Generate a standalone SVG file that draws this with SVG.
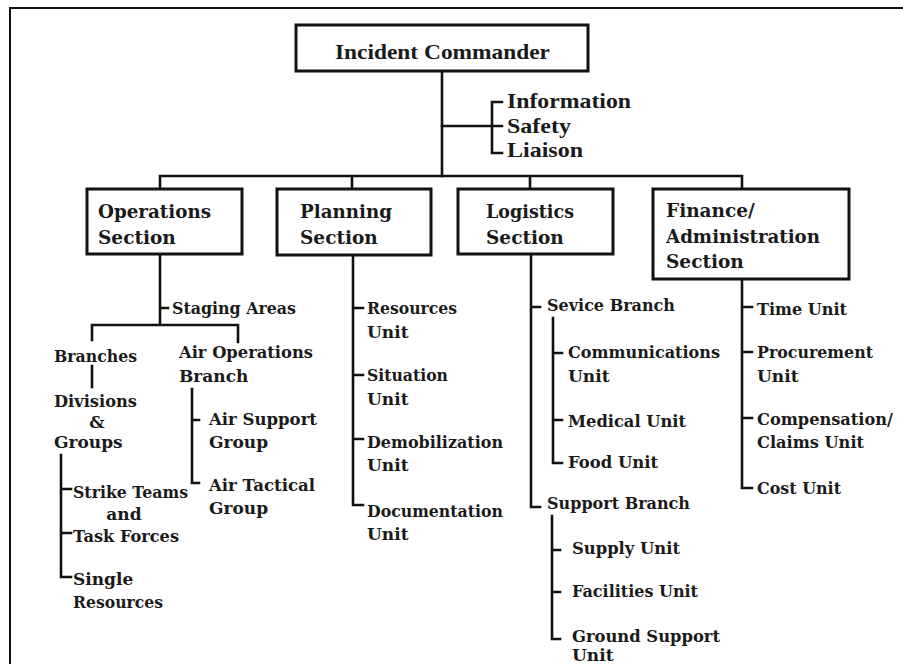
<svg xmlns="http://www.w3.org/2000/svg" width="903" height="664" viewBox="0 0 903 664">
<style>
.frame{fill:none;stroke:#111;stroke-width:2}
.box{fill:#fff;stroke:#111;stroke-width:3}
.ln{fill:none;stroke:#111;stroke-width:2.6;stroke-linecap:square}
.t{font-family:"DejaVu Serif","Liberation Serif",serif;font-weight:bold;font-size:17px;fill:#1a1a1a}
.s{font-family:"DejaVu Serif","Liberation Serif",serif;font-weight:bold;font-size:18.5px;fill:#1a1a1a}
.c{font-family:"Liberation Serif",serif;font-weight:bold;font-size:21px;fill:#1a1a1a}
</style>
<rect width="903" height="664" fill="#fff"/>
<path class="frame" d="M10,664 V8 H903"/>
<g id="connectors">
<path class="ln" d="M442,71 V176"/>
<path class="ln" d="M442,126 H502 M502,102 H492 V153 H502"/>
<path class="ln" d="M160,189 V176 H742 V189 M352,176 V189 M530,176 V189"/>
<path class="ln" d="M160,254 V325 M160,308 H168 M92,340 V325 H238 V342"/>
<path class="ln" d="M92,366 V387"/>
<path class="ln" d="M61,455 V577 H71 M61,489 H71 M61,533 H71"/>
<path class="ln" d="M192,389 V483 H199 M192,420 H199"/>
<path class="ln" d="M353,255 V505 H363 M353,308 H363 M353,375 H363 M353,439 H363"/>
<path class="ln" d="M531,254 V507 H540 M531,307 H540"/>
<path class="ln" d="M553,318 V463 H562 M553,353 H562 M553,420 H562"/>
<path class="ln" d="M552,516 V639 H560 M552,550 H560 M552,592 H560"/>
<path class="ln" d="M742,279 V488 H752 M742,307 H752 M742,352 H752 M742,418 H752"/>
</g>
<g id="incident-commander">
<rect class="box" x="296" y="25" width="292" height="46"/>
<text class="c" x="335" y="59" textLength="215" lengthAdjust="spacingAndGlyphs">Incident Commander</text>
</g>
<g id="command-staff">
<text class="c" x="507" y="108" font-size="22" textLength="124" lengthAdjust="spacingAndGlyphs">Information</text>
<text class="c" x="507" y="133" font-size="22" textLength="64" lengthAdjust="spacingAndGlyphs">Safety</text>
<text class="c" x="507" y="157" font-size="22" textLength="76" lengthAdjust="spacingAndGlyphs">Liaison</text>
</g>
<g id="operations-section">
<rect class="box" x="87" y="189" width="155" height="65"/>
<text class="s" x="98" y="218" textLength="113" lengthAdjust="spacingAndGlyphs">Operations</text>
<text class="s" x="98" y="244">Section</text>
</g>
<g id="planning-section">
<rect class="box" x="277" y="189" width="154" height="66"/>
<text class="s" x="300" y="218" textLength="92" lengthAdjust="spacingAndGlyphs">Planning</text>
<text class="s" x="300" y="244">Section</text>
</g>
<g id="logistics-section">
<rect class="box" x="458" y="189" width="155" height="65"/>
<text class="s" x="486" y="218" textLength="88" lengthAdjust="spacingAndGlyphs">Logistics</text>
<text class="s" x="486" y="244">Section</text>
</g>
<g id="finance-section">
<rect class="box" x="653" y="189" width="196" height="90"/>
<text class="s" x="666" y="217">Finance/</text>
<text class="s" x="666" y="243" textLength="154" lengthAdjust="spacingAndGlyphs">Administration</text>
<text class="s" x="666" y="268">Section</text>
</g>
<g id="staging-areas"><text class="t" x="172" y="314" textLength="124" lengthAdjust="spacingAndGlyphs">Staging Areas</text></g>
<g id="branches"><text class="t" x="54" y="362" textLength="83" lengthAdjust="spacingAndGlyphs">Branches</text></g>
<g id="divisions-groups">
<text class="t" x="54" y="407" textLength="83" lengthAdjust="spacingAndGlyphs">Divisions</text>
<text class="t" x="97" y="428" text-anchor="middle">&amp;</text>
<text class="t" x="54" y="448">Groups</text>
</g>
<g id="strike-teams">
<text class="t" x="73" y="498" textLength="115" lengthAdjust="spacingAndGlyphs">Strike Teams</text>
<text class="t" x="124" y="520" text-anchor="middle">and</text>
<text class="t" x="73" y="542" textLength="106" lengthAdjust="spacingAndGlyphs">Task Forces</text>
</g>
<g id="single-resources">
<text class="t" x="73" y="585">Single</text>
<text class="t" x="73" y="608" textLength="90" lengthAdjust="spacingAndGlyphs">Resources</text>
</g>
<g id="air-operations">
<text class="t" x="179" y="358" textLength="134" lengthAdjust="spacingAndGlyphs">Air Operations</text>
<text class="t" x="179" y="382">Branch</text>
</g>
<g id="air-support">
<text class="t" x="209" y="425" textLength="108" lengthAdjust="spacingAndGlyphs">Air Support</text>
<text class="t" x="209" y="448">Group</text>
</g>
<g id="air-tactical">
<text class="t" x="209" y="491" textLength="106" lengthAdjust="spacingAndGlyphs">Air Tactical</text>
<text class="t" x="209" y="514">Group</text>
</g>
<g id="resources-unit">
<text class="t" x="367" y="314" textLength="90" lengthAdjust="spacingAndGlyphs">Resources</text>
<text class="t" x="367" y="338">Unit</text>
</g>
<g id="situation-unit">
<text class="t" x="367" y="381" textLength="81" lengthAdjust="spacingAndGlyphs">Situation</text>
<text class="t" x="367" y="405">Unit</text>
</g>
<g id="demobilization-unit">
<text class="t" x="367" y="448" textLength="136" lengthAdjust="spacingAndGlyphs">Demobilization</text>
<text class="t" x="367" y="471">Unit</text>
</g>
<g id="documentation-unit">
<text class="t" x="367" y="517" textLength="136" lengthAdjust="spacingAndGlyphs">Documentation</text>
<text class="t" x="367" y="540">Unit</text>
</g>
<g id="service-branch"><text class="t" x="547" y="311" textLength="128" lengthAdjust="spacingAndGlyphs">Sevice Branch</text></g>
<g id="communications-unit">
<text class="t" x="568" y="358" textLength="152" lengthAdjust="spacingAndGlyphs">Communications</text>
<text class="t" x="568" y="382">Unit</text>
</g>
<g id="medical-unit"><text class="t" x="568" y="427" textLength="118" lengthAdjust="spacingAndGlyphs">Medical Unit</text></g>
<g id="food-unit"><text class="t" x="568" y="468" textLength="90" lengthAdjust="spacingAndGlyphs">Food Unit</text></g>
<g id="support-branch"><text class="t" x="547" y="509" textLength="143" lengthAdjust="spacingAndGlyphs">Support Branch</text></g>
<g id="supply-unit"><text class="t" x="572" y="554" textLength="108" lengthAdjust="spacingAndGlyphs">Supply Unit</text></g>
<g id="facilities-unit"><text class="t" x="572" y="597" textLength="126" lengthAdjust="spacingAndGlyphs">Facilities Unit</text></g>
<g id="ground-support-unit">
<text class="t" x="572" y="642" textLength="148" lengthAdjust="spacingAndGlyphs">Ground Support</text>
<text class="t" x="572" y="661">Unit</text>
</g>
<g id="time-unit"><text class="t" x="757" y="315" textLength="90" lengthAdjust="spacingAndGlyphs">Time Unit</text></g>
<g id="procurement-unit">
<text class="t" x="757" y="358" textLength="116" lengthAdjust="spacingAndGlyphs">Procurement</text>
<text class="t" x="757" y="382">Unit</text>
</g>
<g id="compensation-unit">
<text class="t" x="757" y="425" textLength="136" lengthAdjust="spacingAndGlyphs">Compensation/</text>
<text class="t" x="757" y="448" textLength="107" lengthAdjust="spacingAndGlyphs">Claims Unit</text>
</g>
<g id="cost-unit"><text class="t" x="757" y="494" textLength="84" lengthAdjust="spacingAndGlyphs">Cost Unit</text></g>
</svg>
